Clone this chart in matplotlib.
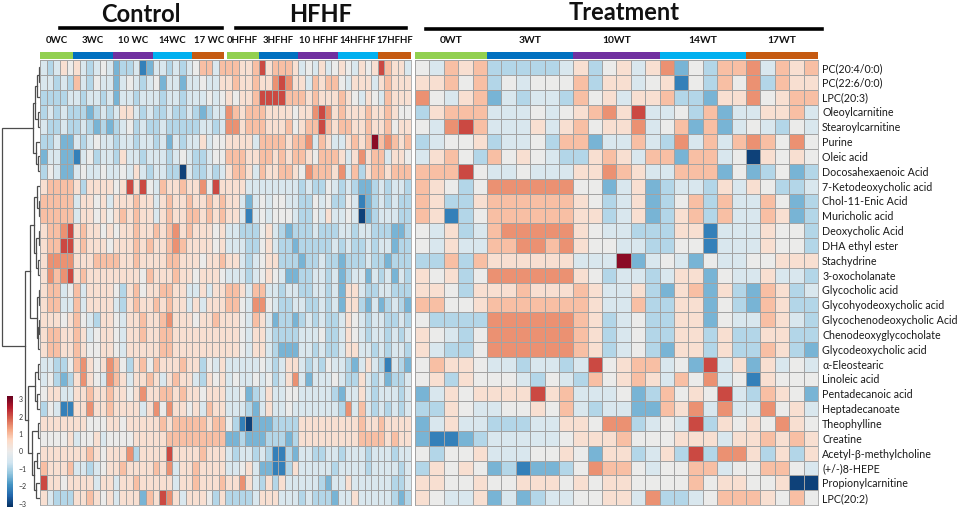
import numpy as np
import matplotlib
matplotlib.use("Agg")
import matplotlib.pyplot as plt
from matplotlib.colors import LinearSegmentedColormap, Normalize
from matplotlib.lines import Line2D
import matplotlib.cm as cm

plt.rcParams['font.family'] = ['Lato', 'DejaVu Sans']

metabolites = [
    "PC(20:4/0:0)", "PC(22:6/0:0)", "LPC(20:3)", "Oleoylcarnitine", "Stearoylcarnitine",
    "Purine", "Oleic acid", "Docosahexaenoic Acid", "7-Ketodeoxycholic acid", "Chol-11-Enic Acid",
    "Muricholic acid", "Deoxycholic Acid", "DHA ethyl ester", "Stachydrine", "3-oxocholanate",
    "Glycocholic acid", "Glycohyodeoxycholic acid", "Glycochenodeoxycholic Acid",
    "Chenodeoxyglycocholate", "Glycodeoxycholic acid", "α-Eleostearic", "Linoleic acid",
    "Pentadecanoic acid", "Heptadecanoate", "Theophylline", "Creatine",
    "Acetyl-β-methylcholine", "(+/-)8-HEPE", "Propionylcarnitine", "LPC(20:2)",
]

block_titles = ["Control", "HFHF", "Treatment"]
control_groups = ["0WC", "3WC", "10 WC", "14WC", "17 WC"]
hfhf_groups = ["0HFHF", "3HFHF", "10 HFHF", "14HFHF", "17HFHF"]
treat_groups = ["0WT", "3WT", "10WT", "14WT", "17WT"]
group_sizes = [5, 6, 6, 6, 5]
group_colors = ["#92d050", "#0070c0", "#7030a0", "#00b0f0", "#c55a11"]

# z-score levels (one character per cell)
level_values = {'0': -3.0, '1': -2.2, '2': -1.5, '3': -0.95, '4': -0.45, '5': 0.0,
                '6': 0.45, '7': 0.95, '8': 1.45, '9': 2.1, 'X': 2.9}

control_rows = [
    "4346564345 4233412443 43457747",
    "4434374354 4245434524 42445446",
    "3333443443 4244344434 43444545",
    "3434333234 3466434334 33432344",
    "4334334323 2345343343 33334434",
    "3342243454 4344344342 43446455",
    "2442214534 4364434443 45433455",
    "3542245445 4454643443 30433434",
    "6777763666 6569695476 67668596",
    "7777746656 4666766467 66766767",
    "7777746656 5676766467 66776767",
    "6778967665 6566766767 86766656",
    "6779967666 5666767667 87666656",
    "6888866677 7766766667 76665667",
    "6878967666 6666657666 76656665",
    "6774574666 6536756677 66446466",
    "6774474666 6436766767 66464666",
    "6665675436 6546676678 66656676",
    "6776676456 6546676677 66666666",
    "6776676556 6546666677 66666666",
    "4433578656 8753675766 67663546",
    "4532368654 8764667646 76643656",
    "5664466766 7665686677 67665666",
    "3541166866 7666646858 66564766",
    "6666666555 6656666676 77777677",
    "5555645564 5555666667 77777777",
    "6666666765 6668366669 66667666",
    "7666744345 6676666768 46676666",
    "9665666646 6466766666 46676667",
    "6433366765 6466627698 64666536",
]

hfhf_rows = [
    "7766796777 6454645654 65697664",
    "6766766898 6647677546 66467666",
    "6566799997 7767666765 46547666",
    "8767776666 5668986766 67667655",
    "8867776667 5677976776 67667566",
    "6666477776 7784764467 67X78767",
    "7776677676 7765777646 86774665",
    "6776476677 6587776847 36776777",
    "6664444444 4343354343 22343443",
    "6642454554 4335453354 12343433",
    "6641454555 4335464454 02344433",
    "4433356432 3334333443 44333223",
    "4443356433 2333334343 34344233",
    "6643456633 3233433233 34332333",
    "4443456542 2334434234 42434243",
    "7764774434 4334434266 43344333",
    "7754885433 4433434266 32423432",
    "6654764233 2343433465 43443343",
    "6654664333 3444533465 43443434",
    "6654664322 2443433466 44343443",
    "4444454346 6434354432 46431432",
    "4544545346 8424445433 64342334",
    "4452346445 5444443244 64344434",
    "4443246445 4444444384 74343434",
    "5310222333 3666666666 76676666",
    "2232223332 3666666666 77776766",
    "4344343113 2443344344 43444344",
    "4456422113 6444443444 43444434",
    "6686436364 4444324464 44444334",
    "3333466644 4343332446 44444323",
]

treat_rows = [
    "54767 333334 635646 825377 84767",
    "66757 354555 736645 615375 83766",
    "85467 243443 756466 733266 85677",
    "36777 444545 678694 453724 46674",
    "54897 444646 756684 572724 54354",
    "34556 344537 724474 384747 87585",
    "46753 756543 367647 727745 06565",
    "77795 445444 668764 477725 23523",
    "76535 888888 552462 344364 65334",
    "76336 777777 653462 357374 47523",
    "76135 777777 663462 367374 47623",
    "54634 788888 654433 366144 46553",
    "54644 778878 655443 355144 46553",
    "33737 666666 444X24 542544 55666",
    "65635 888888 653443 466254 46443",
    "66536 667666 764463 267263 27634",
    "77556 777777 764473 366253 27633",
    "53333 888888 763453 366254 47643",
    "65435 888888 763453 366363 36633",
    "64335 888888 763453 266363 37632",
    "57665 443443 495677 452946 26454",
    "56365 554354 375676 475845 16555",
    "24656 666967 444523 756594 37652",
    "33654 455657 434422 768484 48564",
    "24644 333446 658834 549365 65865",
    "21123 444445 666755 566646 67676",
    "53556 444556 526634 639388 63636",
    "36565 231223 587754 557745 57754",
    "66556 556665 656655 557566 55600",
    "65446 242344 556648 334577 76575",
]

# row dendrogram (left child, right child, merge height); leaves are row indices
row_tree = (
    ((((0, 1, 1.2), 2, 2.6), (3, 4, 1.6), 4.6), (5, (6, 7, 2.0), 3.6), 7.0),
    (
        (((8, (9, 10, 0.8), 3.0), ((11, 12, 1.0), (13, 14, 2.2), 3.6), 6.5),
         ((15, 16, 1.0), ((17, 18, 0.8), 19, 1.6), 3.2), 10.5),
        (((20, 21, 2.2), (22, 23, 2.8), 5.2),
         ((24, 25, 2.0), ((26, 27, 3.0), (28, 29, 3.6), 6.0), 7.8), 12.0),
        15.5),
    38.0)


def to_matrix(rows):
    return np.array([[level_values[c] for c in r.replace(" ", "")] for r in rows])


M_control = to_matrix(control_rows)
M_hfhf = to_matrix(hfhf_rows)
M_treat = to_matrix(treat_rows)
M_left = np.hstack([M_control, M_hfhf])

cmap = LinearSegmentedColormap.from_list(
    "rdbu_grey",
    ["#053061", "#2166ac", "#4393c3", "#92c5de", "#d1e5f0", "#ebebeb",
     "#fddbc7", "#f4a582", "#d6604d", "#b2182b", "#67001f"])
norm = Normalize(vmin=-3.2, vmax=3.2)

W, H = 962, 515
fig = plt.figure(figsize=(W / 100, H / 100), dpi=100)


def rect(x0, y0, x1, y1):
    return [x0 / W, 1 - y1 / H, (x1 - x0) / W, (y1 - y0) / H]


HM_TOP, HM_BOT = 60, 505
ax_l = fig.add_axes(rect(40, HM_TOP, 411, HM_BOT))
ax_r = fig.add_axes(rect(415, HM_TOP, 818, HM_BOT))
for ax, M in ((ax_l, M_left), (ax_r, M_treat)):
    ax.pcolormesh(M, cmap=cmap, norm=norm, edgecolors="#a3a3a3", linewidth=0.45)
    ax.set_xlim(0, M.shape[1])
    ax.set_ylim(M.shape[0], 0)
    ax.set_xticks([])
    ax.set_yticks([])
    for s in ax.spines.values():
        s.set_color("#a3a3a3")
        s.set_linewidth(0.6)

ax_r.yaxis.tick_right()
ax_r.set_yticks(np.arange(len(metabolites)) + 0.5)
ax_r.set_yticklabels(metabolites, fontsize=7.7, color="#1a1a1a")
ax_r.tick_params(axis="y", length=0, pad=3)

# group annotation bars
def annot(axpos, blocks, n_cols, fs):
    ax = fig.add_axes(axpos)
    ax.set_xlim(0, n_cols)
    ax.set_ylim(0, 1)
    ax.axis("off")
    start = 0
    for bi, labels in enumerate(blocks):
        for gi, (lab, n, col) in enumerate(zip(labels, group_sizes, group_colors)):
            x0, w = start, n
            if len(blocks) > 1 and bi == 0 and gi == len(labels) - 1:
                w -= 0.25
            if len(blocks) > 1 and bi == 1 and gi == 0:
                x0 += 0.25
                w -= 0.25
            ax.bar(x0, 1, width=w, align="edge", color=col, linewidth=0)
            ax.text(start + n / 2, 2.6, lab, ha="center", va="center",
                    fontsize=fs, fontweight="bold", color="#111111", clip_on=False)
            start += n
    return ax

annot(rect(40, 52, 411, 59), [control_groups, hfhf_groups], M_left.shape[1], 6.9)
annot(rect(415, 52, 818, 59), [treat_groups], M_treat.shape[1], 7.4)

# block titles and rules
def block_title(x0, x1, y_line, y_text, title):
    fig.add_artist(Line2D([x0 / W, x1 / W], [1 - y_line / H] * 2, color="black", lw=2.6))
    fig.text((x0 + x1) / 2 / W, 1 - y_text / H, title, ha="center", va="center",
             fontsize=17, fontweight="bold", color="#111111")

block_title(60, 222, 28, 14, block_titles[0])
block_title(236, 406, 28, 15, block_titles[1])
block_title(426, 822, 29, 13, block_titles[2])

# dendrogram
ax_d = fig.add_axes(rect(1, HM_TOP, 40, HM_BOT))
ax_d.set_ylim(len(metabolites), 0)
ax_d.set_xlim(39.0, 0)
ax_d.axis("off")


def draw(node):
    if isinstance(node, int):
        return node + 0.5, 0.0
    l, r, h = node
    yl, hl = draw(l)
    yr, hr = draw(r)
    ax_d.plot([hl, h, h, hr], [yl, yl, yr, yr], color="#4d4d4d", lw=0.9,
              solid_joinstyle="miter")
    return (yl + yr) / 2, h

draw(row_tree)

# colour scale
ax_c = fig.add_axes(rect(7, 396, 13, 507))
cb = fig.colorbar(cm.ScalarMappable(norm=norm, cmap=cmap), cax=ax_c)
cb.set_ticks([-3, -2, -1, 0, 1, 2, 3])
cb.ax.tick_params(labelsize=5, length=0, pad=4, colors="#333333")
cb.outline.set_visible(False)

fig.savefig("out.png", dpi=100)
